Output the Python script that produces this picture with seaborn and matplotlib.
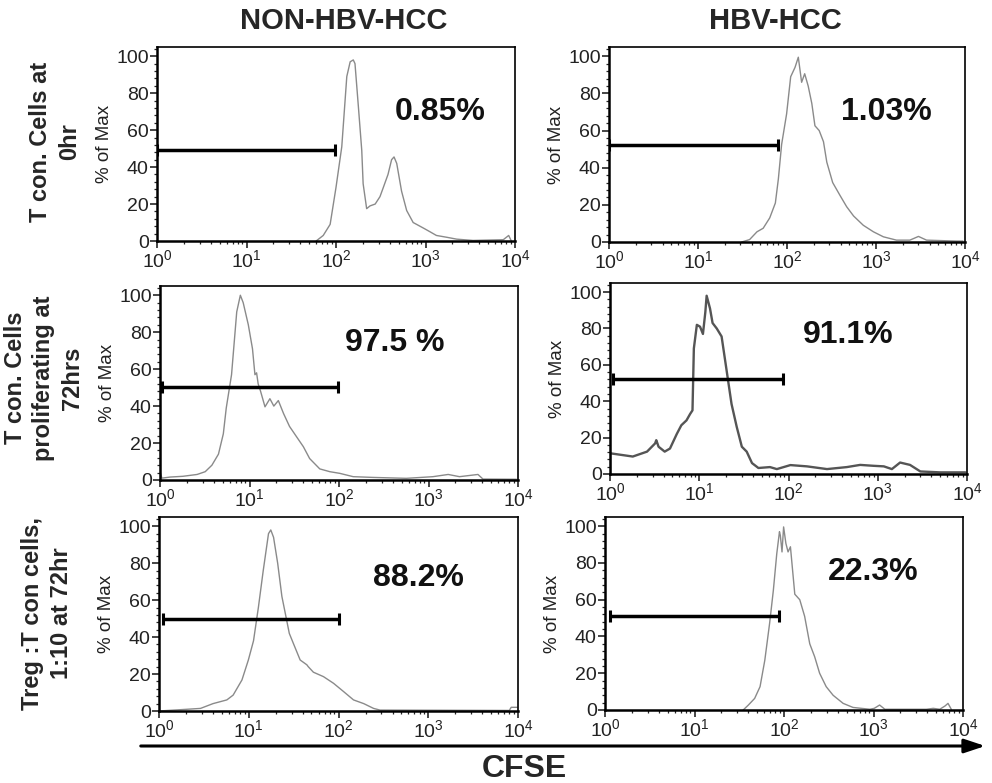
import matplotlib
matplotlib.use("Agg")
import matplotlib.pyplot as plt
from matplotlib.patches import FancyArrowPatch
from matplotlib.ticker import MultipleLocator, LogLocator, NullFormatter
import seaborn as sns

sns.set_style("white")
plt.rcParams['font.family'] = ['Liberation Sans', 'DejaVu Sans']
plt.rcParams['mathtext.default'] = 'regular'

# column / row headings
col_titles = ["NON-HBV-HCC", "HBV-HCC"]
row_titles = ["T con. Cells at\n0hr",
              "T con. Cells\nproliferating at\n72hrs",
              "Treg :T con cells,\n1:10 at 72hr"]
x_title = "CFSE"
y_label = "% of Max"

# histogram traces (CFSE intensity, % of max)
p1_cfse = [60, 72, 86, 100, 116, 132, 144, 156, 163, 178, 194, 201, 220, 240, 274, 310, 338,
           381, 418, 445, 477, 540, 616, 728, 947, 1122, 1324, 1736, 2230, 3400, 7400, 8500, 9100]
p1_pct = [0, 3, 9, 29, 51, 89, 97, 98, 96, 72.5, 49, 31, 17.5, 19, 20, 24, 29,
          36, 44, 45.5, 42, 27, 16.5, 10, 7, 5, 3, 2, 1, 0.3, 0.7, 3, 0]

p2_cfse = [31, 38, 46, 54, 64, 74, 80, 87, 99, 110, 123, 134, 146, 158, 173, 190, 206, 230,
           257, 280, 326, 395, 468, 560, 720, 935, 1210, 1700, 2400, 3000, 3700, 8000, 9500]
p2_pct = [0, 1.3, 5.5, 7.4, 13, 21, 34, 52.5, 69, 89, 94, 99.5, 86, 90.6, 84, 74.6, 62.6, 60,
          54, 43, 32, 25, 19, 14, 9, 5.5, 2.8, 1, 1, 3, 1, 0.5, 0.5]

p3_cfse = [1.0, 1.05, 1.3, 1.8, 2.6, 3.2, 3.8, 4.5, 5.1, 5.5, 6.3, 7.2, 7.9, 8.5, 9.7, 10.8,
           11.5, 12, 12.5, 13.3, 14.9, 16.9, 18.7, 21, 24, 28, 34, 40, 47, 61, 79, 102, 144,
           240, 565, 1120, 1660, 2220, 3570, 4060, 9600]
p3_pct = [4.5, 1, 1.6, 2, 3, 4.5, 8, 14, 25, 39, 57, 91, 100, 96, 84, 71,
          57, 58, 52, 48, 39.6, 44, 40, 43, 36, 29, 23, 18, 11.6, 6, 4.5, 3.6, 1.8,
          1.4, 0.9, 1.8, 3, 1.8, 3, 0.5, 0.4]

p4_cfse = [1.0, 1.0, 1.8, 2.6, 3.2, 3.3, 3.5, 4.1, 4.7, 5.6, 6.3, 7.2, 7.9, 8.4, 8.7, 9.4,
           10.2, 11, 11.7, 12.1, 13.2, 14.1, 15.7, 17.8, 20.3, 23, 26.3, 30, 34, 39, 46, 62,
           74, 105, 161, 270, 450, 635, 900, 1170, 1440, 1780, 2300, 3000, 5000, 9600]
p4_pct = [0, 11.4, 9.6, 12.3, 16.8, 18.6, 15, 12.3, 14, 22, 26.8, 29.5, 33, 35, 69, 82,
          81, 77, 89, 98, 91, 83, 80, 75.6, 56.6, 38.5, 25.9, 15, 12.3, 6, 3.3, 3.8,
          2.7, 4.9, 4.2, 2.7, 3.8, 5, 4.5, 4.2, 2.7, 6.3, 5, 1.4, 0.9, 0.9]

p5_cfse = [1.0, 2.0, 2.9, 4.0, 5.7, 6.7, 8.4, 9.9, 11.3, 12.8, 14.5, 16.6, 17.6, 18.9, 21,
           23.4, 25.5, 28.3, 31.4, 37.4, 44.4, 46, 52.5, 68, 88, 114, 147, 191, 246, 290,
           8000, 8400, 9800]
p5_pct = [0, 0.9, 1.4, 4, 6, 8.6, 16.8, 27.6, 38, 56, 76, 96, 98, 94, 80,
          62, 53, 42, 36.6, 27.6, 25, 24, 21, 18.6, 15, 10.5, 6, 4, 1.4, 0.5,
          0.3, 2, 2]

p6_cfse = [35, 40, 47, 54, 61, 69, 76, 83, 89, 91, 95, 99, 105, 111, 118, 132, 150, 170, 194,
           220, 250, 296, 354, 458, 590, 910, 1020, 1170, 1340, 3900, 4650, 5500, 6300, 6800, 7400]
p6_pct = [0, 2.7, 6.3, 12.7, 27, 47, 65, 85, 97, 95, 86, 99.6, 90.6, 86, 88.8, 63, 60, 51, 36,
          29, 20, 12.7, 8, 3.6, 1.4, 0.4, 0.9, 2.7, 0.4, 0.4, 0.9, 0.4, 2.2, 3.6, 0.4]

# gates (marker bars) and gated percentages, panel order: row by row, left then right
gate_lo = [1.0, 1.0, 1.04, 1.07, 1.1, 1.15]
gate_hi = [98, 79, 98, 87, 100, 89]
gate_y = [49, 52.5, 50.3, 52.5, 49.6, 51]
gate_pct = ["0.85%", "1.03%", "97.5 %", "91.1%", "88.2%", "22.3%"]

traces = [(p1_cfse, p1_pct), (p2_cfse, p2_pct), (p3_cfse, p3_pct),
          (p4_cfse, p4_pct), (p5_cfse, p5_pct), (p6_cfse, p6_pct)]

W, H = 992, 783
# panel boxes in pixels: left, right, top, bottom
boxes = [(157, 515, 47, 241), (609, 965, 47, 242),
         (160, 518, 286, 480), (610, 967, 283, 474),
         (159, 518, 517, 711), (605, 963, 517, 710)]
label_pos = [(0.79, 0.665), (0.78, 0.665), (0.656, 0.706),
             (0.667, 0.73), (0.724, 0.686), (0.75, 0.715)]

fig = plt.figure(figsize=(W / 100, H / 100), dpi=100)

for i, (l, r, t, b) in enumerate(boxes):
    ax = fig.add_axes([l / W, 1 - b / H, (r - l) / W, (b - t) / H])
    xs, ys = traces[i]
    dark = (i == 3)
    sns.lineplot(x=xs, y=ys, ax=ax, sort=False, estimator=None,
                 color="#555555" if dark else "#8a8a8a", lw=1.7 if dark else 1.0)
    ax.plot([gate_lo[i], gate_hi[i]], [gate_y[i], gate_y[i]], color="black", lw=2.5,
            marker="|", ms=9, mew=2.2, solid_capstyle="butt")
    ax.text(*label_pos[i], gate_pct[i], transform=ax.transAxes, ha="center", va="center",
            fontsize=23, fontweight="bold", color="#111111")

    ax.set_xscale("log")
    ax.set_xlim(1, 1e4)
    ax.set_ylim(0, 105)
    ax.set_yticks([0, 20, 40, 60, 80, 100])
    ax.yaxis.set_minor_locator(MultipleLocator(4))
    ax.xaxis.set_major_locator(LogLocator(base=10, numticks=6))
    ax.xaxis.set_minor_locator(LogLocator(base=10, subs=range(2, 10), numticks=20))
    ax.xaxis.set_minor_formatter(NullFormatter())
    ax.tick_params(which="major", direction="out", length=5, width=1.2, labelsize=14,
                   labelcolor="#222222", pad=1, bottom=True, left=True)
    ax.tick_params(which="minor", direction="out", length=2.5, width=0.9, bottom=True, left=True)
    for side, sp in ax.spines.items():
        sp.set_visible(True)
        sp.set_color("black")
        sp.set_linewidth(1.8 if side in ("left", "bottom") else 1.2)
    ax.set_xlabel("")
    ax.set_ylabel(y_label, fontsize=13.5, color="#222222", labelpad=2)

# column titles
fig.text(344 / W, 1 - 29 / H, col_titles[0], ha="center", va="baseline",
         fontsize=21, fontweight="bold")
fig.text(775 / W, 1 - 29 / H, col_titles[1], ha="center", va="baseline",
         fontsize=21, fontweight="bold")

# row titles
row_x = [55, 44, 47]
row_y = [142, 378, 613]
for txt, rx, ry in zip(row_titles, row_x, row_y):
    fig.text(rx / W, 1 - ry / H, txt, ha="center", va="center", rotation=90,
             fontsize=17, fontweight="bold", linespacing=1.3)

# CFSE axis arrow
arrow = FancyArrowPatch((138 / W, 1 - 746 / H), (988 / W, 1 - 746 / H),
                        transform=fig.transFigure, arrowstyle="-|>,head_length=0.9,head_width=0.3",
                        mutation_scale=14, lw=2.2, color="black")
fig.add_artist(arrow)
fig.text(524 / W, 1 - 777 / H, x_title, ha="center", va="baseline",
         fontsize=23, fontweight="bold")

fig.savefig("out.png", dpi=100)
